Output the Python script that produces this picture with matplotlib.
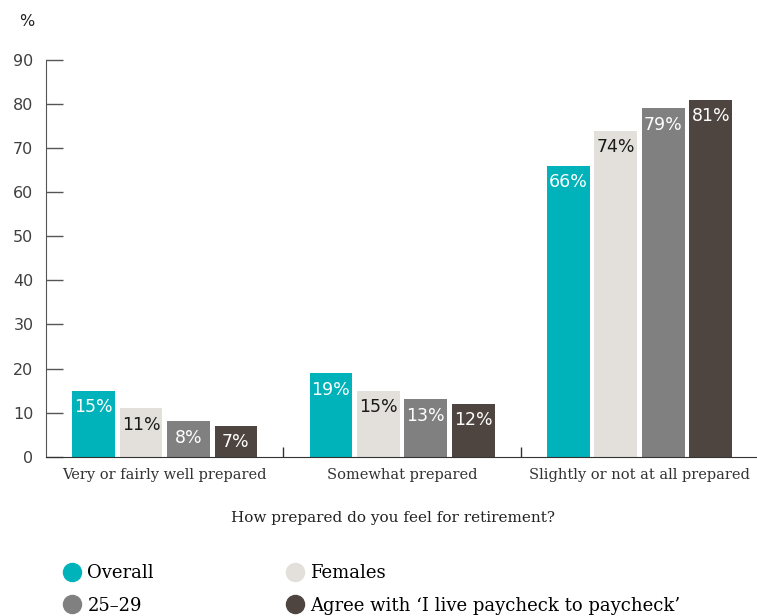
import numpy as np
import matplotlib.pyplot as plt
from matplotlib.lines import Line2D

# data
categories = ['Very or fairly well prepared', 'Somewhat prepared', 'Slightly or not at all prepared']
series = ['Overall', 'Females', '25\u201329', 'Agree with \u2018I live paycheck to paycheck\u2019']
overall = [15, 19, 66]
females = [11, 15, 74]
age_25_29 = [8, 13, 79]
paycheck = [7, 12, 81]

colors = ['#00B3BA', '#E3E0DB', '#808080', '#4E4540']
label_colors = ['white', '#1a1a1a', 'white', 'white']
serif = 'DejaVu Serif'

fig = plt.figure(figsize=(7.57, 6.16), dpi=100)
ax = fig.add_axes([46/757, 1-456.7/616, 1-46/757, (456.7-60)/616])

x = np.arange(len(categories))
step = 0.2
width = 0.18
for i, vals in enumerate([overall, females, age_25_29, paycheck]):
    pos = x + (i - 1.5) * step
    bars = ax.bar(pos, vals, width, color=colors[i], zorder=2)
    for b, v in zip(bars, vals):
        ax.annotate('%d%%' % v, (b.get_x() + b.get_width()/2, v),
                    xytext=(0, -5.5), textcoords='offset points',
                    ha='center', va='top', fontsize=12.5,
                    color=label_colors[i], fontfamily='DejaVu Sans')

ax.set_xlim(-0.5, 2.495)
ax.set_ylim(0, 90)
ax.set_yticks(range(0, 91, 10))
ax.set_xticks(x)
ax.set_xticklabels(categories, fontfamily=serif, fontsize=10.5, color='#333333')
ax.set_xticks([0.5, 1.5], minor=True)

for s in ['top', 'right']:
    ax.spines[s].set_visible(False)
ax.spines['left'].set_color('#555555')
ax.spines['bottom'].set_color('#333333')
ax.tick_params(axis='y', direction='in', length=12.5, width=1, color='#555555',
               labelsize=11.5, labelcolor='#404040', pad=9)
ax.tick_params(axis='x', which='major', length=0, pad=8)
ax.tick_params(axis='x', which='minor', direction='in', length=7.5, width=1, color='#333333')

fig.text(27/757, 1-22/616, '%', fontsize=11.5, color='#222222', ha='center', va='center')
fig.text(393/757, 1-518/616, 'How prepared do you feel for retirement?',
         fontsize=11, fontfamily=serif, color='#222222', ha='center', va='center')

handles = [Line2D([], [], marker='o', linestyle='', markersize=13,
                  markerfacecolor=c, markeredgecolor=c) for c in colors]
# order so columns read Overall/25-29 | Females/Agree
order = [0, 2, 1, 3]
leg = fig.legend([handles[k] for k in order], [series[k] for k in order],
                 loc='upper left', bbox_to_anchor=(54/757, 1-557/616), ncol=2,
                 frameon=False, prop={'family': serif, 'size': 13},
                 handletextpad=0.25, columnspacing=7.2, labelspacing=0.8,
                 handlelength=1.2, borderaxespad=0)

fig.savefig('out.png', dpi=100)
